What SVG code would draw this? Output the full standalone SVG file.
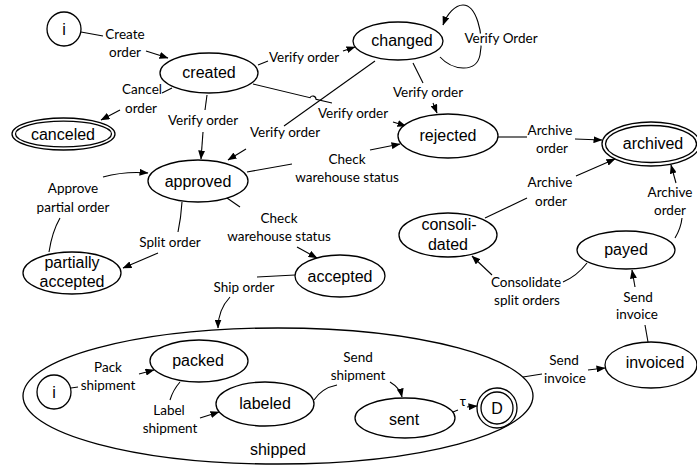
<svg xmlns="http://www.w3.org/2000/svg" width="697" height="466" viewBox="0 0 697 466">
  <defs>
    <marker id="arrow" markerUnits="userSpaceOnUse" markerWidth="9" markerHeight="7" refX="8.5" refY="3.5" orient="auto">
      <path d="M0,0 L9,3.5 L0,7 z" fill="#000"/>
    </marker>
    <style>
      .st ellipse, .st circle { fill: #fff; stroke: #000; stroke-width: 1.3; }
      .nl { font-family: "Liberation Sans", Arial, sans-serif; font-size: 16px; text-anchor: middle; fill: #000; }
      .el { font-family: Lato, "Open Sans", sans-serif; font-size: 13.5px; text-anchor: middle; fill: #000; }
      .halo { paint-order: stroke; stroke: #fff; stroke-width: 5px; stroke-linejoin: round; }
      #edges path { fill: none; stroke: #000; stroke-width: 1.1; }
      #edges path.a { marker-end: url(#arrow); }
    </style>
  </defs>
  <rect width="697" height="466" fill="#fff"/>

  <!-- composite state: shipped -->
  <g id="shipped" class="st">
    <ellipse cx="278" cy="396" rx="255" ry="68"/>
    <text class="nl" x="278" y="455">shipped</text>
  </g>

  <!-- connectors and their labels -->
  <g id="edges">
    <!-- i -> created -->
    <path d="M81,32 L103,36"/>
    <path class="a" d="M146,51 L168,58"/>
    <text class="el" x="125" y="39">Create</text>
    <text class="el" x="125" y="57">order</text>

    <!-- created -> changed -->
    <path d="M258,65 L268,61"/>
    <path class="a" d="M343,51 L355,47"/>
    <text class="el" x="304" y="62">Verify order</text>

    <!-- changed self loop -->
    <path class="a" d="M440,57 C452,70 476,74 480,55 C484,33 476,5 463,5 C455,5 447,14 443,25"/>
    <text class="el halo" x="501" y="43">Verify Order</text>

    <!-- created -> rejected (hops over the approved/changed line) -->
    <path d="M253,84 L310,97.7 A3.2,3.2 0 0 1 316,99.2 L332,103"/>
    <path class="a" d="M393,122 L406,126"/>
    <text class="el" x="353" y="118">Verify order</text>

    <!-- changed -> approved -->
    <path d="M375,61 L284,126"/>
    <path class="a" d="M246,149 L228,160"/>
    <text class="el" x="285" y="137">Verify order</text>

    <!-- created -> approved -->
    <path d="M207,95 L205,110"/>
    <path class="a" d="M203,132 L201,159"/>
    <text class="el" x="203" y="125">Verify order</text>

    <!-- changed -> rejected -->
    <path d="M413,63 L423,83"/>
    <path class="a" d="M433,103 L437,113"/>
    <text class="el" x="428" y="97">Verify order</text>

    <!-- approved -> rejected -->
    <path d="M247,172 L292,164"/>
    <path class="a" d="M370,150 L400,144"/>
    <text class="el" x="347" y="164">Check</text>
    <text class="el" x="347" y="182">warehouse status</text>

    <!-- approved -> accepted -->
    <path d="M227,198 L240,207"/>
    <path class="a" d="M297,247 L317,258"/>
    <text class="el" x="279" y="223">Check</text>
    <text class="el" x="279" y="241">warehouse status</text>

    <!-- approved -> partially accepted -->
    <path d="M182,202 Q181,218 178,232"/>
    <path class="a" d="M158,253 L123,268"/>
    <text class="el" x="170" y="247">Split order</text>

    <!-- partially accepted -> approved -->
    <path d="M49,252 Q52,232 60,218"/>
    <path class="a" d="M103,177 Q125,171 148,173"/>
    <text class="el" x="73" y="193">Approve</text>
    <text class="el" x="73" y="212">partial order</text>

    <!-- created -> canceled -->
    <path d="M172,88 L162,93"/>
    <path class="a" d="M120,110 L101,120"/>
    <text class="el" x="142" y="94">Cancel</text>
    <text class="el" x="141" y="113">order</text>

    <!-- rejected -> archived -->
    <path d="M498,137 L527,137"/>
    <path class="a" d="M575,139 L602,140"/>
    <text class="el" x="550" y="135">Archive</text>
    <text class="el" x="552" y="153">order</text>

    <!-- consolidated -> archived -->
    <path d="M485,218 L527,198"/>
    <path class="a" d="M576,176 L615,159"/>
    <text class="el" x="550" y="187">Archive</text>
    <text class="el" x="551" y="206">order</text>

    <!-- payed -> archived -->
    <path d="M675,238 Q681,228 682,218"/>
    <path class="a" d="M676,183 L671,165"/>
    <text class="el" x="670" y="197">Archive</text>
    <text class="el" x="670" y="215">order</text>

    <!-- payed -> consolidated -->
    <path d="M587,263 Q577,276 563,282"/>
    <path class="a" d="M492,275 L472,256"/>
    <text class="el" x="526" y="287">Consolidate</text>
    <text class="el" x="527" y="305">split orders</text>

    <!-- invoiced -> payed -->
    <path d="M648,342 L645,325"/>
    <path class="a" d="M635,287 L632,270"/>
    <text class="el" x="638" y="302">Send</text>
    <text class="el" x="637" y="319">invoice</text>

    <!-- shipped -> invoiced -->
    <path d="M523,377 L542,374"/>
    <path class="a" d="M588,370 L605,368"/>
    <text class="el" x="564" y="365">Send</text>
    <text class="el" x="565" y="383">invoice</text>

    <!-- accepted -> shipped -->
    <path d="M295,275 L257,277"/>
    <path class="a" d="M230,297 Q218,310 218,328"/>
    <text class="el" x="244" y="292">Ship order</text>

    <!-- i -> packed -->
    <path d="M71,388 L78,387"/>
    <path class="a" d="M139,374 L154,370"/>
    <text class="el" x="108" y="372">Pack</text>
    <text class="el" x="108" y="390">shipment</text>

    <!-- packed -> labeled -->
    <path d="M180,382 Q173,390 170,400"/>
    <path class="a" d="M200,418 L219,412"/>
    <text class="el" x="169" y="415">Label</text>
    <text class="el" x="170" y="433">shipment</text>

    <!-- labeled -> sent -->
    <path d="M314,400 Q322,388 337,385"/>
    <path class="a" d="M390,382 Q400,388 402,397"/>
    <text class="el" x="358" y="362">Send</text>
    <text class="el" x="358" y="380">shipment</text>

    <!-- sent -> D -->
    <path d="M453,412 L458,410"/>
    <path class="a" d="M467,407 L477,406"/>
    <text class="el" x="463" y="406">τ</text>
  </g>

  <!-- states -->
  <g id="init" class="st">
    <circle cx="64" cy="29" r="17"/>
    <text class="nl" x="64" y="35">i</text>
  </g>
  <g id="created" class="st">
    <ellipse cx="209" cy="73" rx="49" ry="20"/>
    <text class="nl" x="209" y="78">created</text>
  </g>
  <g id="changed" class="st">
    <ellipse cx="398" cy="41" rx="45" ry="19"/>
    <text class="nl" x="402" y="46">changed</text>
  </g>
  <g id="canceled" class="st">
    <ellipse cx="63.5" cy="134" rx="51.5" ry="16"/>
    <ellipse cx="63.5" cy="134" rx="48" ry="12.8"/>
    <text class="nl" x="63" y="140">canceled</text>
  </g>
  <g id="rejected" class="st">
    <ellipse cx="448" cy="136" rx="50" ry="22"/>
    <text class="nl" x="448" y="141">rejected</text>
  </g>
  <g id="archived" class="st">
    <ellipse cx="651" cy="144" rx="49" ry="22"/>
    <ellipse cx="651" cy="144" rx="45.5" ry="18.5"/>
    <text class="nl" x="653" y="149">archived</text>
  </g>
  <g id="approved" class="st">
    <ellipse cx="198" cy="181" rx="50" ry="21"/>
    <text class="nl" x="198" y="187">approved</text>
  </g>
  <g id="partially-accepted" class="st">
    <ellipse cx="72" cy="273" rx="49" ry="21"/>
    <text class="nl" x="72" y="268">partially</text>
    <text class="nl" x="72" y="287">accepted</text>
  </g>
  <g id="accepted" class="st">
    <ellipse cx="340" cy="276" rx="45" ry="21"/>
    <text class="nl" x="340" y="282">accepted</text>
  </g>
  <g id="consolidated" class="st">
    <ellipse cx="448" cy="235" rx="49" ry="22"/>
    <text class="nl" x="449" y="230">consoli-</text>
    <text class="nl" x="448" y="250">dated</text>
  </g>
  <g id="payed" class="st">
    <ellipse cx="626" cy="250" rx="49" ry="19"/>
    <text class="nl" x="626" y="255">payed</text>
  </g>
  <g id="invoiced" class="st">
    <ellipse cx="651" cy="365" rx="46" ry="23"/>
    <text class="nl" x="655" y="368">invoiced</text>
  </g>
  <g id="shipped-init" class="st">
    <circle cx="54" cy="392" r="17"/>
    <text class="nl" x="54" y="398">i</text>
  </g>
  <g id="packed" class="st">
    <ellipse cx="199" cy="361" rx="49" ry="21"/>
    <text class="nl" x="198" y="366">packed</text>
  </g>
  <g id="labeled" class="st">
    <ellipse cx="265" cy="404" rx="49" ry="22"/>
    <text class="nl" x="265" y="409">labeled</text>
  </g>
  <g id="sent" class="st">
    <ellipse cx="405" cy="418" rx="50" ry="20"/>
    <text class="nl" x="404" y="425">sent</text>
  </g>
  <g id="done" class="st">
    <circle cx="497" cy="408" r="20"/>
    <circle cx="497" cy="408" r="16"/>
    <text class="nl" x="497" y="414">D</text>
  </g>
</svg>
